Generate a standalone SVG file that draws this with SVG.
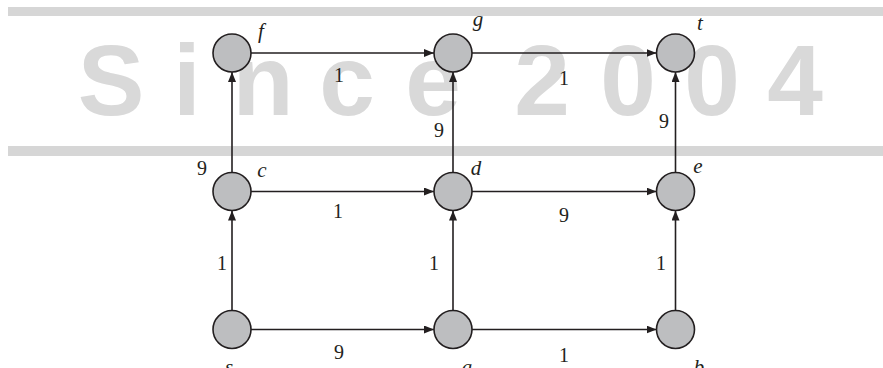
<svg xmlns="http://www.w3.org/2000/svg" width="883" height="368" viewBox="0 0 883 368">
<style>
.band{fill:#d6d6d6}
.wm{font-family:"Liberation Sans",Arial,sans-serif;font-weight:bold;font-size:100px;fill:#d9d9d9}
.node{fill:#bdbec0;stroke:#231f20;stroke-width:1.6}
.edge{stroke:#231f20;stroke-width:1.6;fill:none;marker-end:url(#arr)}
.w{font-family:"Liberation Serif","Times New Roman",serif;font-size:20px;fill:#231f20;text-anchor:middle}
.lbl{font-family:"Liberation Serif","Times New Roman",serif;font-size:21px;font-style:italic;fill:#231f20;text-anchor:middle}
</style>
<defs>
<marker id="arr" viewBox="0 0 10 8" refX="10" refY="4" markerWidth="10" markerHeight="8" markerUnits="userSpaceOnUse" orient="auto">
<path d="M0,0 L10,4 L0,8 Z" fill="#231f20"/>
</marker>
</defs>
<rect width="883" height="368" fill="#ffffff"/>
<g id="watermark">
<rect class="band" x="8" y="7" width="875" height="9"/>
<rect class="band" x="8" y="146" width="875" height="10"/>
<text class="wm" x="111 187 263 347 433 542 628 712 795" y="115" text-anchor="middle">Since2004</text>
</g>
<g id="connectors">
<line class="edge" x1="251" y1="53" x2="434" y2="53"/>
<line class="edge" x1="472" y1="53" x2="656.5" y2="53"/>
<line class="edge" x1="251" y1="191.5" x2="434" y2="191.5"/>
<line class="edge" x1="472" y1="191.5" x2="656.5" y2="191.5"/>
<line class="edge" x1="251" y1="329.5" x2="434" y2="329.5"/>
<line class="edge" x1="472" y1="329.5" x2="656.5" y2="329.5"/>
<line class="edge" x1="232" y1="310.5" x2="232" y2="210.5"/>
<line class="edge" x1="453" y1="310.5" x2="453" y2="210.5"/>
<line class="edge" x1="675.5" y1="310.5" x2="675.5" y2="210.5"/>
<line class="edge" x1="232" y1="172.5" x2="232" y2="72"/>
<line class="edge" x1="453" y1="172.5" x2="453" y2="72"/>
<line class="edge" x1="675.5" y1="172.5" x2="675.5" y2="72"/>
<text class="w" x="339" y="82">1</text>
<text class="w" x="564" y="85">1</text>
<text class="w" x="338" y="218">1</text>
<text class="w" x="564" y="222">9</text>
<text class="w" x="339" y="359">9</text>
<text class="w" x="564" y="362">1</text>
<text class="w" x="222" y="270">1</text>
<text class="w" x="434" y="270">1</text>
<text class="w" x="661" y="270">1</text>
<text class="w" x="202" y="175">9</text>
<text class="w" x="439" y="137">9</text>
<text class="w" x="664" y="128">9</text>
</g>
<g id="node-f"><circle class="node" cx="232" cy="53" r="19"/><text class="lbl" x="261" y="38">f</text></g>
<g id="node-g"><circle class="node" cx="453" cy="53" r="19"/><text class="lbl" x="478" y="26">g</text></g>
<g id="node-t"><circle class="node" cx="675.5" cy="53" r="19"/><text class="lbl" x="700" y="30">t</text></g>
<g id="node-c"><circle class="node" cx="232" cy="191.5" r="19"/><text class="lbl" x="262" y="177">c</text></g>
<g id="node-d"><circle class="node" cx="453" cy="191.5" r="19"/><text class="lbl" x="476" y="175">d</text></g>
<g id="node-e"><circle class="node" cx="675.5" cy="191.5" r="19"/><text class="lbl" x="698" y="173">e</text></g>
<g id="node-s"><circle class="node" cx="232" cy="329.5" r="19"/><text class="lbl" x="229" y="374">s</text></g>
<g id="node-a"><circle class="node" cx="453" cy="329.5" r="19"/><text class="lbl" x="467" y="374">a</text></g>
<g id="node-b"><circle class="node" cx="675.5" cy="329.5" r="19"/><text class="lbl" x="699" y="374">b</text></g>
</svg>
